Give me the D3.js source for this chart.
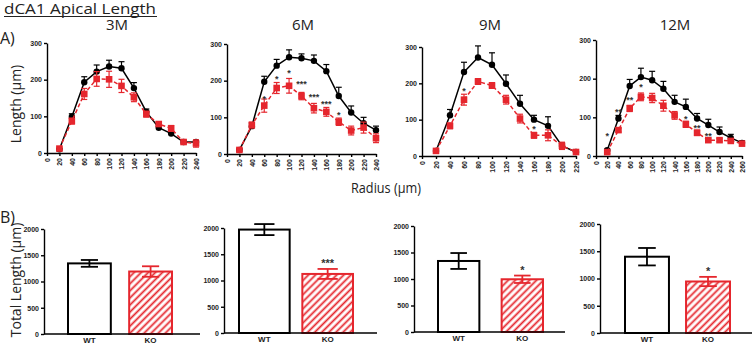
<!DOCTYPE html>
<html>
<head>
<meta charset="utf-8">
<script src="https://cdn.jsdelivr.net/npm/d3@7"></script>
<style>
body { margin: 0; background: #fff; }
svg { display: block; }
.tick text { font-family: 'Liberation Sans', Arial, sans-serif; font-weight: bold; font-size: 7px; fill: #222; }
.axis path, .axis line { stroke: #000; stroke-width: 1.4; }
.big { font-family: 'Open Sans', sans-serif; fill: #222; }
</style>
</head>
<body>
<div id="chart"></div>
<script>
// radius bins (µm)
const radius3M = [20, 40, 60, 80, 100, 120, 140, 160, 180, 200, 220, 240];
const radius6M = [20, 40, 60, 80, 100, 120, 140, 160, 180, 200, 220, 240];
const radius9M = [20, 40, 60, 80, 100, 120, 140, 160, 180, 200, 220];
const radius12M = [20, 40, 60, 80, 100, 120, 140, 160, 180, 200, 220, 240, 260];

const xTicks3M = [0, 20, 40, 60, 80, 100, 120, 140, 160, 180, 200, 220, 240];
const xTicks6M = [0, 20, 40, 60, 80, 100, 120, 140, 160, 180, 200, 220, 240];
const xTicks9M = [0, 20, 40, 60, 80, 100, 120, 140, 160, 180, 200, 220];
const xTicks12M = [0, 20, 40, 60, 80, 100, 120, 140, 160, 180, 200, 220, 240, 260];
const lengthTicks = [0, 100, 200, 300];
const totalTicks = [0, 500, 1000, 1500, 2000];

// Sholl length per bin, mean and SEM
const wt3M = [10, 99, 193, 222, 236, 231, 177, 112, 69, 53, 30, 30];
const wt3MErr = [2, 8, 15, 18, 17, 18, 15, 8, 5, 5, 4, 4];
const ko3M = [12, 87, 161, 202, 201, 183, 152, 106, 79, 67, 30, 26];
const ko3MErr = [4, 8, 15, 20, 22, 18, 12, 8, 6, 8, 5, 10];

const wt6M = [11, 76, 197, 241, 264, 261, 254, 226, 158, 113, 84, 65];
const wt6MErr = [3, 8, 15, 17, 20, 12, 16, 18, 24, 18, 16, 11];
const ko6M = [11, 79, 132, 180, 186, 158, 125, 115, 88, 64, 72, 43];
const ko6MErr = [4, 8, 18, 15, 20, 10, 13, 12, 10, 12, 15, 12];

const wt9M = [14, 112, 231, 271, 251, 199, 144, 100, 83, 28, 11];
const wt9MErr = [3, 16, 27, 32, 33, 24, 23, 12, 25, 8, 3];
const ko9M = [14, 83, 155, 205, 194, 155, 103, 57, 57, 28, 11];
const ko9MErr = [3, 8, 15, 8, 8, 12, 12, 8, 15, 10, 3];

const wt12M = [15, 97, 181, 204, 196, 174, 140, 127, 97, 80, 62, 47, 34];
const wt12MErr = [3, 8, 17, 23, 23, 19, 17, 20, 13, 15, 13, 9, 5];
const ko12M = [10, 67, 123, 153, 150, 130, 105, 82, 60, 41, 41, 39, 32];
const ko12MErr = [3, 5, 8, 10, 12, 14, 10, 8, 7, 5, 4, 4, 5];

// significance marks: radius, label, height (µm)
const stars6M = [[60, '*', 156], [80, '*', 209], [100, '*', 225], [120, '***', 197], [140, '***', 161], [160, '***', 143], [180, '*', 111]];
const stars9M = [[60, '*', 183], [160, '*', 80]];
const stars12M = [[20, '*', 58], [40, '**', 118], [60, '**', 149], [80, '*', 183], [160, '*', 101], [180, '**', 77], [200, '**', 58]];

// total apical length
const months = ['3M', '6M', '9M', '12M'];
const groups = ['WT', 'KO'];
const wtTotal = [1345, 1970, 1340, 1400];
const wtTotalErr = [65, 105, 150, 160];
const koTotal = [1190, 1125, 995, 945];
const koTotalErr = [100, 95, 70, 85];
const barStars = ['', '***', '*', '*'];

const red = '#e5262d';

const svg = d3.select('#chart').append('svg')
    .attr('width', 752)
    .attr('height', 347);

svg.append('defs').append('pattern')
    .attr('id', 'hatch')
    .attr('patternUnits', 'userSpaceOnUse')
    .attr('width', 5)
    .attr('height', 5)
    .attr('patternTransform', 'rotate(45)')
    .append('line')
    .attr('x1', 2.5).attr('y1', 0).attr('x2', 2.5).attr('y2', 5)
    .attr('stroke', red).attr('stroke-width', 1.8);

// panel boxes
const linePanels = [
    { x0: 47, x1: 196, yTop: 43, yBot: 153, titleX: 117 },
    { x0: 227, x1: 376, yTop: 44, yBot: 154, titleX: 303 },
    { x0: 422, x1: 576, yTop: 47, yBot: 156, titleX: 490 },
    { x0: 596, x1: 742, yTop: 40, yBot: 156, titleX: 675 },
];
const barPanels = [
    { x0: 44, x1: 200, yTop: 229, yBot: 334, b0: 68, b1: 172, pad: 0.3 },
    { x0: 224, x1: 377, yTop: 228, yBot: 333, b0: 239, b1: 353, pad: 0.2 },
    { x0: 414, x1: 565, yTop: 226, yBot: 332, b0: 438, b1: 543, pad: 0.35 },
    { x0: 600, x1: 752, yTop: 224, yBot: 333, b0: 625, b1: 730, pad: 0.28 },
];

const lineSeries = [
    { r: radius3M, ticks: xTicks3M, wt: wt3M, wtErr: wt3MErr, ko: ko3M, koErr: ko3MErr, stars: [] },
    { r: radius6M, ticks: xTicks6M, wt: wt6M, wtErr: wt6MErr, ko: ko6M, koErr: ko6MErr, stars: stars6M },
    { r: radius9M, ticks: xTicks9M, wt: wt9M, wtErr: wt9MErr, ko: ko9M, koErr: ko9MErr, stars: stars9M },
    { r: radius12M, ticks: xTicks12M, wt: wt12M, wtErr: wt12MErr, ko: ko12M, koErr: ko12MErr, stars: stars12M },
];

lineSeries.forEach(function (s, i) {
    const p = linePanels[i];
    const x = d3.scaleLinear().domain([0, d3.max(s.ticks)]).range([p.x0, p.x1]);
    const y = d3.scaleLinear().domain([0, 300]).range([p.yBot, p.yTop]);
    const g = svg.append('g');

    g.append('text')
        .attr('class', 'big')
        .attr('x', p.titleX)
        .attr('y', 30)
        .attr('text-anchor', 'middle')
        .style('font-size', '15px')
        .text(months[i]);

    g.append('g')
        .attr('class', 'axis')
        .attr('transform', 'translate(0,' + p.yBot + ')')
        .call(d3.axisBottom(x).tickValues(s.ticks).tickSize(3).tickSizeOuter(0))
        .call(ax => ax.selectAll('text')
            .attr('transform', 'rotate(-90)')
            .attr('x', -5)
            .attr('y', 0)
            .attr('dy', '0.35em')
            .style('text-anchor', 'end'));

    g.append('g')
        .attr('class', 'axis')
        .attr('transform', 'translate(' + p.x0 + ',0)')
        .call(d3.axisLeft(y).tickValues(lengthTicks).tickSize(3).tickPadding(2).tickSizeOuter(0));

    const wtPts = s.r.map((r, j) => ({ r: r, v: s.wt[j], e: s.wtErr[j] }));
    const koPts = s.r.map((r, j) => ({ r: r, v: s.ko[j], e: s.koErr[j] }));
    const line = d3.line().x(d => x(d.r)).y(d => y(d.v));

    // WT: black, error above only
    g.append('path').datum(wtPts)
        .attr('d', line).attr('fill', 'none').attr('stroke', '#000').attr('stroke-width', 1.5);
    const wtErr = g.append('g').attr('stroke', '#000').attr('stroke-width', 1.2);
    wtErr.selectAll('line.v').data(wtPts).enter().append('line')
        .attr('x1', d => x(d.r)).attr('x2', d => x(d.r))
        .attr('y1', d => y(d.v)).attr('y2', d => y(d.v + d.e));
    wtErr.selectAll('line.c').data(wtPts).enter().append('line')
        .attr('x1', d => x(d.r) - 3).attr('x2', d => x(d.r) + 3)
        .attr('y1', d => y(d.v + d.e)).attr('y2', d => y(d.v + d.e));
    g.selectAll('circle').data(wtPts).enter().append('circle')
        .attr('cx', d => x(d.r)).attr('cy', d => y(d.v)).attr('r', 3.2).attr('fill', '#000');

    // KO: red dashed, squares
    g.append('path').datum(koPts)
        .attr('d', line).attr('fill', 'none').attr('stroke', red)
        .attr('stroke-width', 1.5).attr('stroke-dasharray', '4,2.5');
    const koErr = g.append('g').attr('stroke', red).attr('stroke-width', 1.2);
    koErr.selectAll('line.v').data(koPts).enter().append('line')
        .attr('x1', d => x(d.r)).attr('x2', d => x(d.r))
        .attr('y1', d => y(d.v - d.e)).attr('y2', d => y(d.v + d.e));
    koErr.selectAll('line.t').data(koPts).enter().append('line')
        .attr('x1', d => x(d.r) - 3).attr('x2', d => x(d.r) + 3)
        .attr('y1', d => y(d.v + d.e)).attr('y2', d => y(d.v + d.e));
    koErr.selectAll('line.b').data(koPts).enter().append('line')
        .attr('x1', d => x(d.r) - 3).attr('x2', d => x(d.r) + 3)
        .attr('y1', d => y(d.v - d.e)).attr('y2', d => y(d.v - d.e));
    g.selectAll('rect').data(koPts).enter().append('rect')
        .attr('x', d => x(d.r) - 3.3).attr('y', d => y(d.v) - 3.3)
        .attr('width', 6.6).attr('height', 6.6).attr('fill', red);

    g.selectAll('text.star').data(s.stars).enter().append('text')
        .attr('class', 'star')
        .attr('x', d => x(d[0]))
        .attr('y', d => y(d[2]))
        .attr('dy', '0.55em')
        .attr('text-anchor', 'middle')
        .style('font-family', 'Liberation Sans, Arial, sans-serif')
        .style('font-weight', 'bold')
        .style('font-size', '9px')
        .attr('fill', '#333')
        .text(d => d[1]);
});

// bottom row: totals
months.forEach(function (m, i) {
    const p = barPanels[i];
    const x = d3.scaleBand().domain(groups).range([p.b0, p.b1]).paddingInner(p.pad);
    const y = d3.scaleLinear().domain([0, 2000]).range([p.yBot, p.yTop]);
    const g = svg.append('g');
    const bars = [
        { k: 'WT', v: wtTotal[i], e: wtTotalErr[i], c: '#000' },
        { k: 'KO', v: koTotal[i], e: koTotalErr[i], c: red },
    ];

    g.append('g')
        .attr('class', 'axis')
        .attr('transform', 'translate(' + p.x0 + ',0)')
        .call(d3.axisLeft(y).tickValues(totalTicks).tickFormat(d3.format('d'))
            .tickSize(3).tickPadding(2).tickSizeOuter(0));

    g.selectAll('rect').data(bars).enter().append('rect')
        .attr('x', d => x(d.k))
        .attr('y', d => y(d.v))
        .attr('width', x.bandwidth())
        .attr('height', d => p.yBot - y(d.v))
        .attr('fill', d => d.k === 'KO' ? 'url(#hatch)' : '#fff')
        .attr('stroke', d => d.c)
        .attr('stroke-width', 2);

    const cap = x.bandwidth() * 0.2;
    bars.forEach(function (d) {
        const cx = x(d.k) + x.bandwidth() / 2;
        const eg = g.append('g').attr('stroke', d.c).attr('stroke-width', 1.8);
        eg.append('line').attr('x1', cx).attr('x2', cx).attr('y1', y(d.v - d.e)).attr('y2', y(d.v + d.e));
        eg.append('line').attr('x1', cx - cap).attr('x2', cx + cap).attr('y1', y(d.v + d.e)).attr('y2', y(d.v + d.e));
        eg.append('line').attr('x1', cx - cap).attr('x2', cx + cap).attr('y1', y(d.v - d.e)).attr('y2', y(d.v - d.e));
    });

    g.append('text')
        .attr('x', x('KO') + x.bandwidth() / 2)
        .attr('y', y(koTotal[i] + koTotalErr[i]) - 8)
        .attr('dy', '0.55em')
        .attr('text-anchor', 'middle')
        .style('font-family', 'Liberation Sans, Arial, sans-serif')
        .style('font-weight', 'bold')
        .style('font-size', '11px')
        .attr('fill', '#333')
        .text(barStars[i]);

    g.append('line')
        .attr('x1', p.x0).attr('x2', p.x1)
        .attr('y1', p.yBot).attr('y2', p.yBot)
        .attr('stroke', '#000').attr('stroke-width', 1.4);
    g.append('g')
        .attr('transform', 'translate(0,' + p.yBot + ')')
        .call(d3.axisBottom(x).tickSize(0).tickPadding(3))
        .call(ax => ax.select('.domain').remove())
        .call(ax => ax.selectAll('text').style('font-size', '8px'));
});

// titles and labels
svg.append('text').attr('class', 'big')
    .attr('x', 4).attr('y', 14)
    .style('font-size', '15px')
    .attr('textLength', 152)
    .attr('lengthAdjust', 'spacingAndGlyphs')
    .text('dCA1 Apical Length');
svg.append('line')
    .attr('x1', 4).attr('x2', 157).attr('y1', 16.5).attr('y2', 16.5)
    .attr('stroke', '#222').attr('stroke-width', 1.2);
svg.append('text').attr('class', 'big')
    .attr('x', 0).attr('y', 44)
    .style('font-size', '16px')
    .text('A)');
svg.append('text').attr('class', 'big')
    .attr('x', 0).attr('y', 223)
    .style('font-size', '16px')
    .text('B)');
svg.append('text').attr('class', 'big')
    .attr('transform', 'translate(21,104) rotate(-90)')
    .attr('text-anchor', 'middle')
    .style('font-size', '14px')
    .text('Length (µm)');
svg.append('text').attr('class', 'big')
    .attr('transform', 'translate(21,280) rotate(-90)')
    .attr('text-anchor', 'middle')
    .style('font-size', '14px')
    .text('Total Length (µm)');
svg.append('text').attr('class', 'big')
    .attr('x', 386).attr('y', 193)
    .attr('text-anchor', 'middle')
    .style('font-size', '14px')
    .attr('textLength', 70)
    .attr('lengthAdjust', 'spacingAndGlyphs')
    .text('Radius (µm)');
</script>
</body>
</html>
